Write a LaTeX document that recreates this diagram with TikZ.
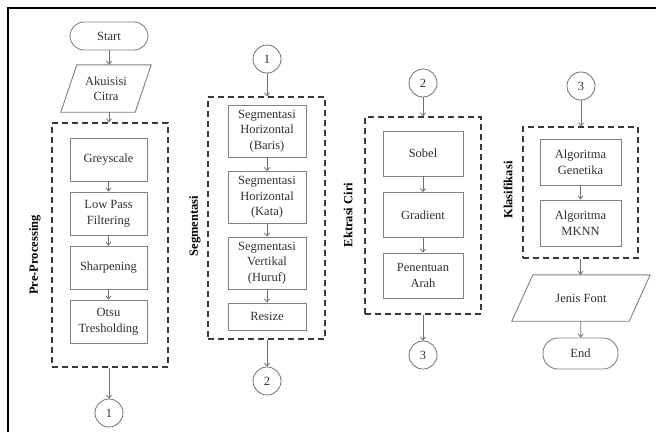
\documentclass[tikz,border=0pt]{standalone}
\usepackage{fontspec}
\setmainfont{Liberation Serif}
\usetikzlibrary{arrows.meta,calc}
\definecolor{boxgray}{HTML}{808080}
\definecolor{arrgray}{HTML}{707070}
\definecolor{dashc}{HTML}{383838}
\definecolor{txtc}{HTML}{303030}
\begin{document}
\begin{tikzpicture}[x=1pt,y=-1pt,
  txt/.style={font=\fontsize{12.5}{15.5}\selectfont, text=txtc, align=center},
  proc/.style={txt, draw=boxgray, line width=0.9pt, inner sep=1pt},
  term/.style={proc, rounded corners=14pt},
  para/.style={txt, inner sep=1pt},
  conn/.style={txt, circle, draw=arrgray, line width=0.8pt, minimum size=28pt, inner sep=0pt},
  dbox/.style={draw=dashc, line width=1.3pt, dash pattern=on 6pt off 4pt},
  lbl/.style={font=\fontsize{12.5}{15}\selectfont\bfseries, rotate=90, text=black},
  arr/.style={draw=arrgray, line width=0.8pt, -{Straight Barb[length=3pt,width=5pt]}}
]
\useasboundingbox (0,0) rectangle (656,432);
% outer frame
\draw[line width=2pt, black] (8,432) -- (8,8) -- (656,8);

% ---------- column 1 ----------
\node[term, minimum width=78pt, minimum height=28pt] (start) at (109,36) {Start};
\node[para, minimum width=74pt, minimum height=47pt] (ak) at (106,88.5) {Akuisisi\\Citra};
\draw[draw=boxgray, line width=0.9pt] ([xshift=8pt]ak.north west) -- ([xshift=8pt]ak.north east)
  -- ([xshift=-8pt]ak.south east) -- ([xshift=-8pt]ak.south west) -- cycle;
\node[dbox, minimum width=116pt, minimum height=244pt] (pre) at (110,245) {};
\node[proc, minimum width=77pt, minimum height=43pt] (g1) at (108.5,159.5) {Greyscale};
\node[proc, minimum width=77pt, minimum height=43pt] (g2) at (108.5,213.5) {Low Pass\\Filtering};
\node[proc, minimum width=77pt, minimum height=43pt] (g3) at (108.5,267.5) {Sharpening};
\node[proc, minimum width=77pt, minimum height=43pt] (g4) at (108.5,321.5) {Otsu\\Tresholding};
\node[conn] (c1) at (109,413) {1};
\node[lbl] (lpre) at (35,255) {Pre-Processing};
\draw[arr] (start.south) -- (start.south |- ak.north);
\draw[arr] (start.south |- ak.south) -- (start.south |- pre.north);
\draw[arr] (g1) -- (g2);
\draw[arr] (g2) -- (g3);
\draw[arr] (g3) -- (g4);
\draw[arr] (c1 |- pre.south) -- (c1);

% ---------- column 2 ----------
\node[conn] (c1b) at (267,59) {1};
\node[dbox, minimum width=117pt, minimum height=242pt] (seg) at (266.5,218) {};
\node[proc, minimum width=78pt, minimum height=52pt] (s1) at (267,131) {Segmentasi\\Horizontal\\(Baris)};
\node[proc, minimum width=78pt, minimum height=52pt] (s2) at (267,197.5) {Segmentasi\\Horizontal\\(Kata)};
\node[proc, minimum width=78pt, minimum height=52pt] (s3) at (267,263) {Segmentasi\\Vertikal\\(Huruf)};
\node[proc, minimum width=78pt, minimum height=27pt] (s4) at (267,316.5) {Resize};
\node[conn] (c2) at (267,381) {2};
\node[lbl] (lseg) at (195,226) {Segmentasi};
\draw[arr] (c1b) -- (c1b |- seg.north);
\draw[arr] (s1) -- (s2);
\draw[arr] (s2) -- (s3);
\draw[arr] (s3) -- (s4);
\draw[arr] (c2 |- seg.south) -- (c2);

% ---------- column 3 ----------
\node[conn] (c2b) at (423,83) {2};
\node[dbox, minimum width=116pt, minimum height=197pt] (ek) at (423,215.5) {};
\node[proc, minimum width=80pt, minimum height=45pt] (e1) at (423,153.5) {Sobel};
\node[proc, minimum width=80pt, minimum height=45pt] (e2) at (423,215) {Gradient};
\node[proc, minimum width=80pt, minimum height=45pt] (e3) at (423,275.5) {Penentuan\\Arah};
\node[conn] (c3) at (423,355) {3};
\node[lbl] (lek) at (348,215) {Ektrasi Ciri};
\draw[arr] (c2b) -- (c2b |- ek.north);
\draw[arr] (e1) -- (e2);
\draw[arr] (e2) -- (e3);
\draw[arr] (c3 |- ek.south) -- (c3);

% ---------- column 4 ----------
\node[conn] (c3b) at (581,86) {3};
\node[dbox, minimum width=115pt, minimum height=131pt] (kl) at (580.5,192.5) {};
\node[proc, minimum width=81pt, minimum height=46pt] (k1) at (580.5,162) {Algoritma\\Genetika};
\node[proc, minimum width=81pt, minimum height=46pt] (k2) at (580.5,223) {Algoritma\\MKNN};
\node[para, minimum width=117pt, minimum height=46pt] (jf) at (581,298) {Jenis Font};
\draw[draw=boxgray, line width=0.9pt] ([xshift=10.5pt]jf.north west) -- ([xshift=10.5pt]jf.north east)
  -- ([xshift=-10.5pt]jf.south east) -- ([xshift=-10.5pt]jf.south west) -- cycle;
\node[term, minimum width=75pt, minimum height=31pt, rounded corners=15pt] (end) at (580.5,353.5) {End};
\node[lbl] (lkl) at (508,190) {Klasifikasi};
\draw[arr] (c3b) -- (c3b |- kl.north);
\draw[arr] (k1) -- (k2);
\draw[arr] (k2.south |- kl.south) -- (k2.south |- jf.north);
\draw[arr] (jf) -- (end);
\end{tikzpicture}
\end{document}
